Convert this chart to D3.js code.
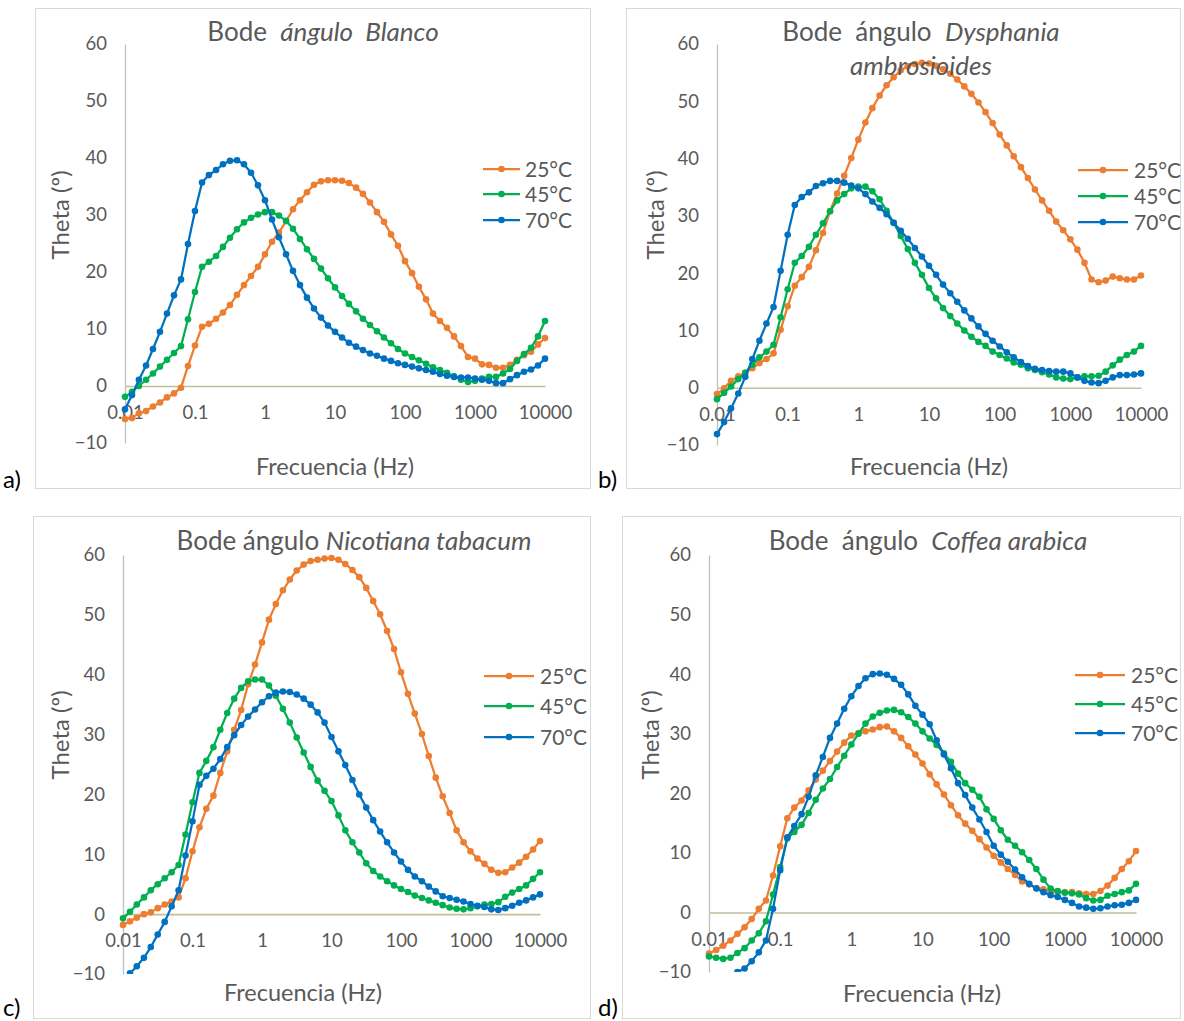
<!DOCTYPE html>
<html><head><meta charset="utf-8">
<script src="https://cdn.jsdelivr.net/npm/d3@7"></script>
<style>
body{margin:0;background:#fff}
svg text{font-family:Lato,"Open Sans",sans-serif;white-space:pre}
</style>
</head><body>
<svg id="chart" width="1184" height="1021"></svg>
<script>
// ---------- data ----------
const freq = [0.01,0.0126,0.0158,0.02,0.0251,0.0316,0.0398,0.0501,0.0631,0.0794,
  0.1,0.126,0.158,0.2,0.251,0.316,0.398,0.501,0.631,0.794,
  1,1.26,1.58,2,2.51,3.16,3.98,5.01,6.31,7.94,
  10,12.6,15.8,20,25.1,31.6,39.8,50.1,63.1,79.4,
  100,126,158,200,251,316,398,501,631,794,
  1000,1259,1585,1995,2512,3162,3981,5012,6310,7943,10000];
const xTickValues = [0.01,0.1,1,10,100,1000,10000];
const xTickLabels = ["0.01","0.1","1","10","100","1000","10000"];
const yTickValues = [-10,0,10,20,30,40,50,60];
const seriesNames = ["25°C","45°C","70°C"];
const seriesColors = ["#ED7D31","#00B050","#0070C0"];

// a) Blanco
const blanco25 = [-5.8,-5.6,-4.8,-4.4,-3.6,-2.9,-2.0,-1.3,-0.3,3.5,7.1,10.4,10.9,11.8,12.9,14.2,16.0,17.7,19.3,20.9,
  23.1,25.3,26.9,28.9,31.0,32.6,34.0,35.3,35.9,36.1,
  36.1,36.0,35.6,34.8,33.7,32.2,30.5,28.8,26.6,24.6,21.9,19.8,17.4,15.2,12.7,11.4,10.2,8.7,7.0,5.1,
  4.8,3.8,3.7,3.2,3.2,3.7,4.6,5.4,6.0,7.3,8.4];
const blanco45 = [-1.9,-1.0,0.0,1.1,2.2,3.4,4.6,5.8,7.0,11.7,16.5,20.9,21.8,22.8,24.4,26.0,27.5,28.7,29.5,30.1,
  30.5,30.5,29.9,29.0,27.6,25.8,24.0,22.3,20.6,18.9,
  17.3,15.8,14.4,13.1,11.8,10.7,9.6,8.5,7.5,6.5,5.7,5.1,4.5,3.9,3.3,2.8,2.3,1.7,1.1,0.7,
  0.9,1.3,1.6,1.6,2.2,3.0,4.4,5.6,6.7,8.7,11.4];
const blanco70 = [-4.1,-1.6,1.1,3.6,6.5,9.5,12.7,15.9,18.7,24.9,30.7,35.7,37.0,37.9,38.9,39.5,39.6,38.9,37.4,35.2,
  32.6,29.2,26.1,23.1,20.2,17.7,15.5,13.6,12.0,10.6,
  9.5,8.5,7.6,6.9,6.3,5.7,5.3,4.8,4.4,4.0,3.7,3.4,3.1,2.8,2.5,2.1,1.8,1.6,1.5,1.5,
  1.3,1.1,0.9,0.5,0.5,1.2,1.9,2.5,2.9,3.6,4.8];

// b) Dysphania ambrosioides
const dysphania25 = [-1.1,-0.1,1.2,2.0,2.6,3.4,4.3,5.0,6.0,10.1,14.2,17.8,19.3,21.1,24.0,27.0,30.8,33.9,37.0,40.1,
  43.3,46.3,48.8,51.0,52.8,54.2,55.4,56.1,56.5,56.7,
  56.6,56.2,55.6,54.8,53.8,52.6,51.3,49.8,48.1,46.2,44.2,42.3,40.4,38.5,36.6,34.6,32.7,30.9,29.0,27.5,
  25.9,24.1,21.8,18.9,18.4,18.7,19.4,19.1,18.9,18.9,19.6];
const dysphania45 = [-2.0,-0.9,0.2,1.5,2.6,4.0,5.3,6.3,7.5,12.3,17.2,21.8,23.0,24.6,26.7,28.7,30.8,32.7,33.8,34.8,
  35.1,35.1,34.3,32.9,30.9,28.8,26.5,24.2,21.8,19.7,
  17.4,15.6,13.9,12.5,11.2,10.0,8.9,8.0,7.3,6.3,5.7,5.1,4.4,4.0,3.4,3.1,2.7,2.3,1.8,1.6,
  1.5,1.8,2.0,2.0,2.1,2.8,3.9,4.9,5.7,6.3,7.3];
const dysphania70 = [-8.1,-6.0,-3.6,-1.0,1.9,5.0,8.2,11.2,14.1,20.4,26.7,31.9,33.3,34.1,35.2,35.7,36.1,36.1,35.8,35.3,
  34.8,33.8,32.5,31.4,30.3,28.8,27.4,26.0,24.4,22.9,
  21.3,19.7,18.0,16.5,15.0,13.5,12.1,10.7,9.4,8.2,7.2,6.2,5.3,4.5,3.8,3.3,3.1,2.9,2.8,2.8,
  2.5,1.8,1.2,0.9,0.8,1.2,1.8,2.2,2.2,2.3,2.5];

// c) Nicotiana tabacum
const nicotiana25 = [-1.8,-1.2,-0.6,0.0,0.3,1.0,1.6,2.1,2.8,6.0,10.5,14.5,17.6,19.8,23.6,27.2,30.8,34.1,38.4,41.7,
  45.4,49.2,51.8,54.1,55.9,57.4,58.4,59.0,59.2,59.4,
  59.5,59.2,58.5,57.5,56.3,54.5,52.3,50.1,47.3,44.3,40.4,36.8,33.5,30.1,26.4,22.8,19.7,16.9,14.0,12.0,
  10.5,9.3,8.4,7.4,6.9,7.0,7.8,8.6,9.6,10.8,12.2];
const nicotiana45 = [-0.7,0.4,1.6,2.8,4.0,5.0,6.0,7.0,8.2,13.3,18.7,23.6,25.6,27.9,30.8,33.6,36.0,37.8,38.9,39.2,
  39.2,38.2,36.5,34.3,32.0,29.5,27.0,24.6,22.3,20.6,
  18.9,16.5,14.0,12.0,10.3,8.5,7.2,6.3,5.5,4.8,4.2,3.7,3.1,2.7,2.3,1.9,1.5,1.1,0.9,0.8,
  1.0,1.3,1.6,1.7,2.0,2.9,3.6,4.2,4.8,5.9,7.0];
const nicotiana70 = [-11.2,-9.9,-8.7,-7.3,-5.5,-3.4,-1.3,1.3,4.0,9.8,15.5,21.6,23.1,24.3,25.9,27.9,29.9,31.6,33.0,34.2,
  35.4,36.4,37.0,37.2,37.1,36.7,36.0,35.0,33.7,32.0,
  29.6,27.2,24.9,22.4,20.0,17.8,15.7,13.8,12.0,10.3,8.8,7.4,6.3,5.5,4.6,3.8,3.0,2.7,2.4,2.1,
  1.7,1.4,1.2,0.8,0.7,1.0,1.4,1.9,2.3,2.8,3.3];

// d) Coffea arabica
const coffea25 = [-6.9,-6.3,-5.6,-4.7,-3.6,-2.5,-1.1,0.6,2.0,6.2,11.1,15.8,17.6,18.8,20.5,22.3,23.8,25.4,27.0,28.5,
  29.7,30.1,30.4,30.7,31.1,31.2,30.4,29.3,27.9,26.5,
  25.0,23.2,21.5,19.8,18.0,16.3,14.9,13.7,12.3,10.9,9.5,8.4,7.3,6.3,5.2,4.7,4.1,3.9,3.5,3.4,
  3.4,3.4,3.2,3.1,3.1,3.6,4.5,5.8,7.3,8.6,10.3];
const coffea45 = [-7.4,-7.6,-7.8,-7.6,-6.8,-6.0,-4.7,-3.5,-1.5,3.0,7.6,12.4,13.5,14.7,16.7,18.9,20.8,22.4,24.4,26.3,
  28.2,30.0,31.7,32.9,33.5,33.9,34.0,33.6,32.8,31.7,
  30.4,29.2,28.1,26.7,25.3,23.3,21.7,20.6,19.4,17.3,15.7,13.8,12.2,11.2,10.1,8.8,7.3,5.5,4.0,3.6,
  3.3,3.2,3.0,2.4,2.0,2.1,2.8,3.1,3.4,3.7,4.8];
const coffea70 = [-15.5,-14.0,-12.3,-10.7,-10.0,-9.4,-8.2,-6.7,-4.7,0.6,7.1,12.6,14.5,16.5,19.4,23.0,26.1,29.3,31.7,34.2,
  36.3,38.0,39.3,40.0,40.1,39.9,39.2,38.2,36.6,34.7,
  33.2,31.6,28.9,26.5,24.2,21.7,19.7,17.6,15.6,13.5,11.2,9.7,8.5,7.2,5.9,4.8,4.0,3.4,2.9,2.6,
  2.1,1.6,1.0,0.8,0.6,0.7,1.0,1.2,1.3,1.6,2.1];

// ---------- layout ----------
const panels = [
  {series:[blanco25,blanco45,blanco70], box:[35,8,555,480], left:125, right:545, top:44, bottom:443,
   title:[[["Bode  ","n"],["ángulo  Blanco","i"]]], titleX:323, titleY:32,
   legend:{x1:483,x2:520,tx:525,rows:[169,194,220]}, ytX:60, ytY:215, xtX:335, xtY:467, lab:"a)", labX:3, labY:488},
  {series:[dysphania25,dysphania45,dysphania70], box:[626,8,554,480], left:717, right:1141, top:44, bottom:445,
   title:[[["Bode  ángulo  ","n"],["Dysphania","i"]],[["ambrosioides","i"]]], titleX:921, titleY:32,
   legend:{x1:1078,x2:1128,tx:1134,rows:[170,196,222]}, ytX:655, ytY:215, xtX:929, xtY:467, lab:"b)", labX:598, labY:488},
  {series:[nicotiana25,nicotiana45,nicotiana70], box:[33,516,557,502], left:123, right:540, top:555, bottom:974,
   title:[[["Bode ángulo ","n"],["Nicotiana tabacum","i"]]], titleX:354, titleY:541,
   legend:{x1:484,x2:534,tx:540,rows:[676,706,737]}, ytX:60, ytY:735, xtX:303, xtY:993, lab:"c)", labX:3, labY:1016},
  {series:[coffea25,coffea45,coffea70], box:[622,516,558,502], left:709, right:1136, top:555, bottom:972,
   title:[[["Bode  ángulo  ","n"],["Coffea arabica","i"]]], titleX:928, titleY:541,
   legend:{x1:1075,x2:1125,tx:1131,rows:[675,704,733]}, ytX:650, ytY:735, xtX:922, xtY:994, lab:"d)", labX:598, labY:1016}
];

const svg = d3.select("#chart");
svg.append("rect").attr("width",1184).attr("height",1021).attr("fill","#fff");
const textColor = "#595959";

panels.forEach((p, pi) => {
  const g = svg.append("g");
  g.append("rect").attr("x",p.box[0]+0.5).attr("y",p.box[1]+0.5).attr("width",p.box[2]).attr("height",p.box[3])
    .attr("fill","#fff").attr("stroke","#D9D9D9").attr("stroke-width",1);

  const x = d3.scaleLog().domain([0.01,10000]).range([p.left,p.right]);
  const y = d3.scaleLinear().domain([-10,60]).range([p.bottom,p.top]);

  // y axis
  const ya = g.append("g").attr("transform",`translate(${p.left},0)`)
    .call(d3.axisLeft(y).tickValues(yTickValues).tickFormat(d3.format("d")).tickSize(0).tickSizeOuter(0).tickPadding(18));
  ya.select(".domain").attr("stroke","#BFBFBF").attr("stroke-width",1.3);
  ya.selectAll("text").attr("fill",textColor).style("font-size","18.5px");

  // x axis (crosses at 0)
  const xa = g.append("g").attr("transform",`translate(0,${y(0)})`)
    .call(d3.axisBottom(x).tickValues(xTickValues).tickFormat((d,i)=>xTickLabels[i]).tickSize(0).tickSizeOuter(0).tickPadding(20));
  xa.select(".domain").attr("stroke","#C4BD97").attr("stroke-width",1.6);
  xa.selectAll("text").attr("fill",textColor).style("font-size","18.5px");

  // clip
  const cid = "clip"+pi;
  g.append("clipPath").attr("id",cid).append("rect")
    .attr("x",p.left-10).attr("y",p.top-10).attr("width",p.right-p.left+20).attr("height",p.bottom-p.top+10);
  const plot = g.append("g").attr("clip-path",`url(#${cid})`);

  const line = d3.line().x((d,i)=>x(freq[i])).y(d=>y(d));
  p.series.forEach((s, si) => {
    plot.append("path").datum(s).attr("d",line).attr("fill","none")
      .attr("stroke",seriesColors[si]).attr("stroke-width",2.25).attr("stroke-linejoin","round");
    plot.selectAll(null).data(s).enter().append("circle")
      .attr("cx",(d,i)=>x(freq[i])).attr("cy",d=>y(d)).attr("r",3.3).attr("fill",seriesColors[si]);
  });

  // legend
  p.legend.rows.forEach((ry, si) => {
    g.append("line").attr("x1",p.legend.x1).attr("x2",p.legend.x2).attr("y1",ry).attr("y2",ry)
      .attr("stroke",seriesColors[si]).attr("stroke-width",2.25);
    g.append("circle").attr("cx",(p.legend.x1+p.legend.x2)/2).attr("cy",ry).attr("r",3.3).attr("fill",seriesColors[si]);
    g.append("text").attr("x",p.legend.tx).attr("y",ry).attr("dy","0.36em").attr("fill",textColor)
      .style("font-size","21px").text(seriesNames[si]);
  });

  // title
  p.title.forEach((ln, li) => {
    const t = g.append("text").attr("x",p.titleX).attr("y",p.titleY + li*34).attr("dy","0.36em")
      .attr("text-anchor","middle").attr("fill",textColor).style("font-size","26px");
    ln.forEach(seg => t.append("tspan").style("font-style", seg[1]==="i" ? "italic" : "normal").text(seg[0]));
  });

  // axis titles
  g.append("text").attr("x",p.xtX).attr("y",p.xtY).attr("dy","0.36em").attr("text-anchor","middle")
    .attr("fill",textColor).style("font-size","23.5px").text("Frecuencia (Hz)");
  g.append("text").attr("transform",`translate(${p.ytX},${p.ytY}) rotate(-90)`).attr("dy","0.36em")
    .attr("text-anchor","middle").attr("fill",textColor).style("font-size","24px").text("Theta (º)");

  // panel label
  svg.append("text").attr("x",p.labX).attr("y",p.labY).attr("fill","#000").style("font-size","24px").text(p.lab);
});
</script>
</body></html>
